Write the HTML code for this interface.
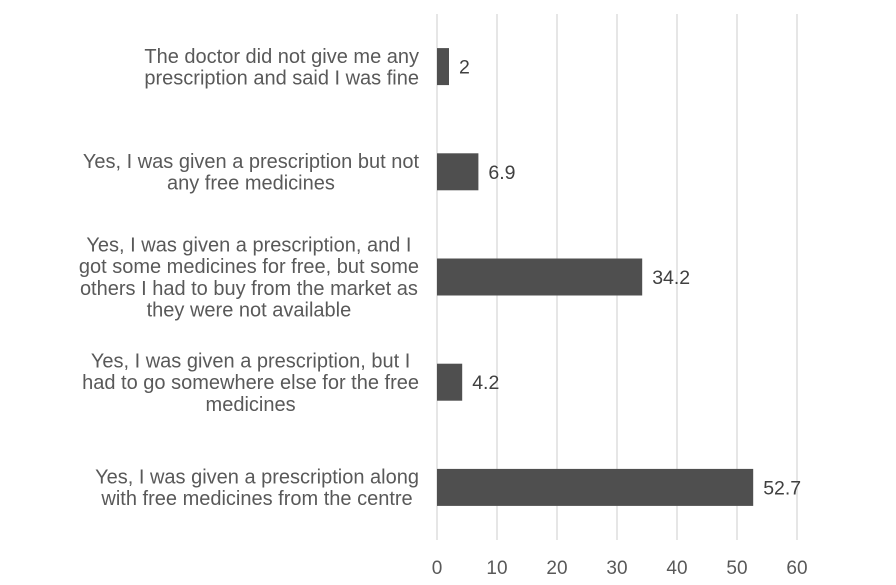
<!DOCTYPE html>
<html><head><meta charset="utf-8"><style>
html,body{margin:0;padding:0;background:#fff;}
svg{display:block;font-family:"Liberation Sans",Arial,sans-serif;}
</style></head><body>
<svg id="chart" width="896" height="585"></svg>
<script>
const categories = [
 ["The doctor did not give me any","prescription and said I was fine"],
 ["Yes, I was given a prescription but not","any free medicines"],
 ["Yes, I was given a prescription, and I","got some medicines for free, but some","others I had to buy from the market as","they were not available"],
 ["Yes, I was given a prescription, but I","had to go somewhere else for the free","medicines"],
 ["Yes, I was given a prescription along","with free medicines from the centre"]
];
const values = [2, 6.9, 34.2, 4.2, 52.7];
const valueLabels = ["2","6.9","34.2","4.2","52.7"];
const ticks = [0,10,20,30,40,50,60];

const NS="http://www.w3.org/2000/svg";
const svg=document.getElementById('chart');
const x0=437,x1=797,yTop=14,yBot=540,xMax=60;
const xs=v=>x0+(v/xMax)*(x1-x0);
const band=(yBot-yTop)/categories.length;
const yc=i=>yTop+band*(i+0.5);
const barH=37;
function mk(t,a){const e=document.createElementNS(NS,t);for(const k in a)e.setAttribute(k,a[k]);svg.appendChild(e);return e;}

ticks.forEach(t=>{
 const g=mk('line',{x1:xs(t),x2:xs(t),y1:yTop,y2:yBot,stroke:'#d9d9d9','stroke-width':1.3});
 
 
 const l=mk('text',{x:xs(t),y:574,'text-anchor':'middle','font-size':19,fill:'#595959'});
 l.textContent=t;
 
 
});

categories.forEach((lines,i)=>{
 const c=yc(i);
 const r=mk('rect',{x:x0,y:c-barH/2,width:xs(values[i])-x0,height:barH,fill:'#4f4f4f'});
 
 
 const v=mk('text',{x:xs(values[i])+10,y:c+7,'font-size':19.5,fill:'#404040'});
 v.textContent=valueLabels[i];
 
 
 const lh=21.6;
 const start=c-(lines.length-1)*lh/2+7;
 const els=lines.map((s,j)=>{
  const t=mk('text',{x:0,y:start+j*lh,'text-anchor':'middle','font-size':20,fill:'#595959'});
  t.textContent=s;
  
  
  return t;
 });
 const maxW=Math.max(...els.map(e=>e.getComputedTextLength()));
 els.forEach(e=>e.setAttribute('x',419-maxW/2));
});
</script>
</body></html>
